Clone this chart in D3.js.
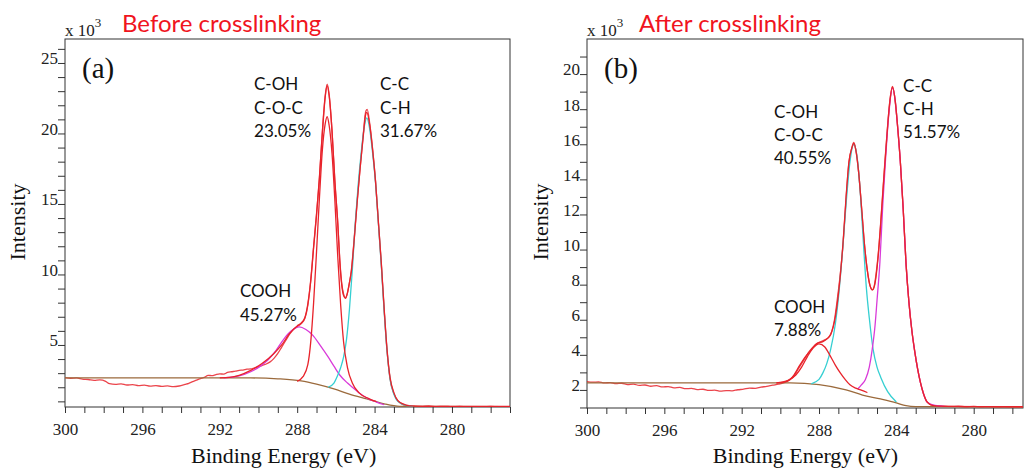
<!DOCTYPE html>
<html>
<head>
<meta charset="utf-8">
<script src="https://d3js.org/d3.v7.min.js"></script>
<style>
  body { margin: 0; background: #fff; }
  svg { display: block; }
  .axis .tick line { stroke: #333; }
  .frame { fill: none; stroke: #333; stroke-width: 1; }
  .curve { fill: none; stroke-width: 1.3; }
</style>
</head>
<body>
<svg id="chart" width="1024" height="472"></svg>
<script>
// ---- data (binding energy eV, intensity x1000) ----
var energyTicks = [300, 296, 292, 288, 284, 280];
var yTicksA = [5, 10, 15, 20, 25];
var yTicksB = [2, 4, 6, 8, 10, 12, 14, 16, 18, 20];

// (a) before crosslinking
var bgA = [[300,2.66],[292,2.66],[290.4,2.66],[289,2.6],[287.8,2.45],[287,2.22],[286.1,1.88],[285.3,1.52],[284.4,1.17],[283.5,0.82],[282.7,0.65],[277,0.62]];
var coohA = [[291.8,2.66],[291,2.8],[290.4,3.1],[289.9,3.5],[289.5,3.95],[289.1,4.6],[288.7,5.4],[288.3,6.0],[287.9,6.28],[287.55,6.1],[287.2,5.7],[286.8,4.95],[286.4,4.15],[286.1,3.5],[285.8,2.87],[285.4,2.3],[285.1,1.95],[284.7,1.5],[284.4,1.24],[283.9,0.95],[283.5,0.76]];
var cohA = [[288.0,2.42],[287.7,2.75],[287.45,3.6],[287.3,5.2],[287.15,8.0],[287.0,11.6],[286.85,15.4],[286.7,18.8],[286.55,20.7],[286.45,21.2],[286.35,20.6],[286.2,18.6],[286.05,15.2],[285.9,11.2],[285.75,7.8],[285.6,5.2],[285.4,3.4],[285.15,2.3],[284.8,1.6],[284.3,1.2],[283.9,0.98]];
var ccA = [[286.4,2.0],[286.1,2.3],[285.9,2.87],[285.75,3.4],[285.6,4.15],[285.45,5.4],[285.3,7.5],[285.15,10.3],[285.0,13.6],[284.85,16.3],[284.7,18.5],[284.55,20.3],[284.4,21.1],[284.25,20.3],[284.1,18.6],[283.95,16.5],[283.8,13.6],[283.65,10.6],[283.5,7.3],[283.35,4.5],[283.2,2.6],[283.0,1.5],[282.8,1.0],[282.4,0.72],[282.0,0.65]];
var envA = [[292,2.66],[291.5,2.7],[291,2.85],[290.4,3.2],[289.8,3.7],[289.2,4.4],[288.8,5.0],[288.4,5.8],[288.0,6.35],[287.8,6.55],[287.6,6.95],[287.45,7.9],[287.3,9.5],[287.15,11.9],[287.0,14.2],[286.85,16.9],[286.7,20.0],[286.55,22.6],[286.45,23.4],[286.35,22.7],[286.2,20.2],[286.05,16.6],[285.9,13.6],[285.8,11.0],[285.7,9.3],[285.6,8.5],[285.5,8.3],[285.4,8.7],[285.3,9.4],[285.2,10.2],[285.05,12.5],[284.9,15.1],[284.75,17.5],[284.6,19.6],[284.45,21.4],[284.4,21.5],[284.25,20.6],[284.1,18.8],[283.95,16.6],[283.8,13.7],[283.65,10.8],[283.5,7.5],[283.35,4.6],[283.2,2.7],[283.0,1.6],[282.8,1.05],[282.5,0.8],[282.2,0.68],[281.5,0.65],[277,0.64]];
var rawA = [[300,2.68],[299.7,2.64],[299.4,2.66],[299.1,2.58],[298.8,2.55],[298.5,2.49],[298.2,2.52],[297.9,2.42],[297.7,2.25],[297.4,2.21],[297.1,2.24],[296.8,2.16],[296.5,2.19],[296.2,2.12],[295.9,2.15],[295.6,2.08],[295.3,2.12],[295.0,2.06],[294.7,2.1],[294.4,2.04],[294.1,2.09],[293.8,2.2],[293.6,2.28],[293.4,2.4],[293.2,2.5],[293.0,2.62],[292.8,2.7],[292.6,2.85],[292.4,2.82],[292.2,2.9],[292.0,2.95],[291.8,2.93],[291.6,3.05],[291.4,3.1],[291.2,3.14],[291.0,3.2],[290.8,3.22],[290.6,3.28],[290.4,3.3],[290.2,3.38],[290.0,3.45],[289.8,3.55],[289.6,3.65],[289.4,3.8],[289.2,4.05],[289.0,4.4],[288.8,4.85],[288.6,5.3],[288.4,5.75],[288.2,6.1],[288.0,6.3],[287.8,6.5],[287.6,6.9],[287.45,7.8],[287.3,9.6],[287.15,12.0],[287.0,14.3],[286.85,16.8],[286.7,20.1],[286.55,22.7],[286.45,23.5],[286.35,22.8],[286.2,20.2],[286.05,16.5],[285.9,13.6],[285.8,11.1],[285.7,9.4],[285.6,8.6],[285.5,8.35],[285.4,8.7],[285.3,9.4],[285.2,10.3],[285.05,12.6],[284.9,15.2],[284.75,17.5],[284.6,19.7],[284.45,21.6],[284.38,21.7],[284.25,20.7],[284.1,18.9],[283.95,16.6],[283.8,13.6],[283.65,10.7],[283.5,7.4],[283.35,4.5],[283.2,2.6],[283.0,1.55],[282.8,1.05],[282.6,0.82],[282.4,0.72],[282.2,0.7],[282.0,0.66],[281.6,0.64],[281.2,0.67],[280.8,0.63],[280.4,0.65],[280.0,0.62],[279.6,0.64],[279.2,0.61],[278.8,0.63],[278.4,0.62],[278,0.64],[277.6,0.62],[277,0.63]];

// (b) after crosslinking
var bgB = [[300,2.4],[289.5,2.4],[288,2.3],[286.6,2.0],[285.75,1.71],[284.9,1.5],[284,1.26],[283.5,1.1],[283,1.05],[277.4,1.03]];
var coohB = [[290.2,2.4],[289.6,2.55],[289.2,2.85],[288.9,3.3],[288.6,3.9],[288.3,4.4],[288.0,4.63],[287.7,4.45],[287.4,3.9],[287.15,3.4],[286.9,2.97],[286.65,2.6],[286.4,2.29],[286.1,2.1],[285.85,2.0],[285.5,1.85]];
var cohB = [[288.4,2.35],[288.0,2.6],[287.8,2.97],[287.6,3.5],[287.4,4.3],[287.15,5.8],[287.0,7.2],[286.8,9.7],[286.6,12.6],[286.4,15.0],[286.2,16.0],[286.0,15.0],[285.85,13.0],[285.7,10.3],[285.55,7.8],[285.4,6.1],[285.2,4.3],[285.0,3.3],[284.8,2.7],[284.45,1.9],[284.0,1.31]];
var ccB = [[286.0,2.05],[285.8,2.3],[285.6,2.6],[285.4,3.3],[285.25,4.3],[285.1,5.7],[285.0,7.1],[284.85,9.3],[284.7,12.6],[284.55,15.3],[284.4,17.6],[284.2,19.2],[284.05,18.4],[283.95,17.2],[283.8,15.1],[283.65,12.4],[283.5,9.2],[283.35,7.0],[283.2,5.4],[283.05,4.2],[282.9,3.2],[282.75,2.4],[282.6,1.8],[282.4,1.3],[282.0,1.12],[281.5,1.06]];
var envB = [[290.2,2.4],[289.8,2.45],[289.5,2.6],[289.3,2.85],[289.0,3.4],[288.7,3.9],[288.4,4.3],[288.1,4.65],[287.8,4.75],[287.55,4.95],[287.4,5.15],[287.15,6.2],[286.9,8.5],[286.75,10.5],[286.6,13.0],[286.45,15.0],[286.3,15.8],[286.2,16.05],[286.1,15.7],[285.95,14.4],[285.8,12.4],[285.65,10.3],[285.5,8.8],[285.35,7.9],[285.23,7.7],[285.1,8.1],[284.95,9.5],[284.8,11.6],[284.65,14.0],[284.5,16.3],[284.35,18.3],[284.2,19.25],[284.05,18.4],[283.95,17.2],[283.8,15.1],[283.65,12.4],[283.5,9.2],[283.35,7.0],[283.2,5.4],[283.05,4.2],[282.9,3.2],[282.75,2.4],[282.6,1.8],[282.4,1.3],[282.1,1.1],[281.5,1.06],[277.4,1.04]];
var rawB = [[300,2.47],[299.7,2.44],[299.4,2.46],[299.1,2.4],[298.8,2.42],[298.5,2.36],[298.2,2.38],[297.9,2.3],[297.6,2.33],[297.3,2.26],[297.0,2.28],[296.7,2.21],[296.4,2.24],[296.1,2.17],[295.8,2.19],[295.5,2.12],[295.2,2.14],[294.9,2.07],[294.6,2.09],[294.3,2.02],[294.0,2.04],[293.7,1.97],[293.4,1.99],[293.1,1.93],[292.8,1.96],[292.5,1.95],[292.2,2.01],[291.9,2.04],[291.6,2.1],[291.3,2.09],[291.0,2.16],[290.7,2.2],[290.4,2.27],[290.1,2.33],[289.8,2.42],[289.5,2.58],[289.3,2.78],[289.1,3.15],[288.9,3.5],[288.7,3.85],[288.5,4.2],[288.3,4.45],[288.1,4.65],[287.9,4.75],[287.7,4.85],[287.5,5.0],[287.35,5.3],[287.2,6.0],[287.05,7.2],[286.9,8.6],[286.75,10.4],[286.6,12.9],[286.45,15.0],[286.3,15.8],[286.2,16.1],[286.1,15.7],[285.95,14.4],[285.8,12.4],[285.65,10.3],[285.5,8.8],[285.35,7.9],[285.25,7.7],[285.15,7.9],[285.05,8.6],[284.9,10.2],[284.75,12.5],[284.6,14.9],[284.45,17.1],[284.3,18.8],[284.2,19.3],[284.1,18.8],[283.95,17.2],[283.8,15.1],[283.65,12.4],[283.5,9.2],[283.35,7.0],[283.2,5.4],[283.05,4.2],[282.9,3.2],[282.75,2.4],[282.6,1.8],[282.4,1.3],[282.2,1.15],[282.0,1.1],[281.6,1.08],[281.2,1.06],[280.8,1.07],[280.4,1.04],[280.0,1.06],[279.6,1.04],[279.2,1.05],[278.8,1.03],[278.4,1.05],[278,1.03],[277.4,1.04]];

// peak labels: [energy, intensity] of first baseline
var labelsA = [
  { at: [290.23, 23.08], lines: ["C-OH", "C-O-C", "23.05%"] },
  { at: [283.72, 23.08], lines: ["C-C", "C-H", "31.67%"] },
  { at: [290.96, 8.4], lines: ["COOH", "45.27%"] }
];
var labelsB = [
  { at: [290.33, 17.5], lines: ["C-OH", "C-O-C", "40.55%"] },
  { at: [283.65, 18.98], lines: ["C-C", "C-H", "51.57%"] },
  { at: [290.33, 6.38], lines: ["COOH", "7.88%"] }
];

var red = "#e8232b", magenta = "#d93ad9", cyan = "#35cfd2", brown = "#9b6a3c";
var serif = "'Liberation Serif', 'Times New Roman', Times, serif";
var sans = "Lato, 'Open Sans', sans-serif";

var svg = d3.select("#chart");

function drawPanel(p) {
  var x = d3.scaleLinear().domain(p.xDomain).range([p.left, p.right]);
  var y = d3.scaleLinear().domain(p.yDomain).range([p.bottom, p.top]);
  var g = svg.append("g");

  g.append("clipPath").attr("id", "clip" + p.id)
    .append("rect")
    .attr("x", p.left).attr("y", p.top)
    .attr("width", p.right - p.left).attr("height", p.bottom - p.top);

  // x axis: minor every 1 eV, labels every 4
  var xMinor = d3.range(300, p.xDomain[1] - 0.01, -1);
  var xAxis = g.append("g").attr("class", "axis")
    .attr("transform", "translate(0," + p.bottom + ")")
    .call(d3.axisBottom(x).tickValues(xMinor).tickSize(6)
      .tickFormat(function (d) { return energyTicks.indexOf(d) >= 0 ? d : ""; }));
  xAxis.select(".domain").remove();
  xAxis.attr("font-family", null).attr("font-size", null);
  xAxis.selectAll("text").attr("y", 16)
    .style("font-family", serif).style("font-size", "17px").style("fill", "#222");

  // y axis: minor every 1, labels at majors
  var yMinor = d3.range(Math.ceil(p.yDomain[0]), p.yDomain[1], 1);
  var yAxis = g.append("g").attr("class", "axis")
    .attr("transform", "translate(" + p.left + ",0)")
    .call(d3.axisLeft(y).tickValues(yMinor).tickSize(7)
      .tickFormat(function (d) { return p.yTicks.indexOf(d) >= 0 ? d : ""; }));
  yAxis.select(".domain").remove();
  yAxis.selectAll("text").attr("x", -7).attr("dy", "0.05em")
    .style("font-family", serif).style("font-size", "17px").style("fill", "#222");

  // frame
  g.append("rect").attr("class", "frame")
    .attr("x", p.left).attr("y", p.top)
    .attr("width", p.right - p.left).attr("height", p.bottom - p.top);

  var line = d3.line()
    .x(function (d) { return x(d[0]); })
    .y(function (d) { return y(d[1]); })
    .curve(d3.curveMonotoneX);

  var plot = g.append("g").attr("clip-path", "url(#clip" + p.id + ")");
  p.series.forEach(function (s) {
    plot.append("path").attr("class", "curve")
      .attr("d", line(s.data))
      .attr("stroke", s.color)
      .attr("stroke-opacity", s.opacity || 1);
  });

  // peak labels
  p.labels.forEach(function (l) {
    var t = g.append("text")
      .style("font-family", sans).style("font-size", "17px").style("fill", "#111")
      .attr("x", x(l.at[0])).attr("y", y(l.at[1]));
    l.lines.forEach(function (s, i) {
      t.append("tspan").attr("x", x(l.at[0])).attr("dy", i === 0 ? 0 : p.lineGap).text(s);
    });
  });

  // panel letter
  g.append("text").style("font-family", serif).style("font-size", "29px").style("fill", "#111")
    .attr("x", p.left + 17).attr("y", p.top + 39).text(p.letter);

  // scale multiplier and title
  var m = g.append("text").style("font-family", serif).style("font-size", "17px").style("fill", "#222")
    .attr("x", p.left).attr("y", p.top - 3).text("x 10");
  m.append("tspan").style("font-size", "13px").attr("dy", -9).text("3");
  g.append("text").style("font-family", sans).style("font-size", "24px").style("fill", "#f0141e")
    .attr("x", p.titleX).attr("y", p.top - 7).text(p.title);

  // axis titles
  g.append("text").style("font-family", serif).style("font-size", "22px").style("fill", "#111")
    .attr("text-anchor", "middle")
    .attr("x", x(288.7)).attr("y", 463).text("Binding Energy (eV)");
  g.append("text").style("font-family", serif).style("font-size", "22px").style("fill", "#111")
    .attr("text-anchor", "middle")
    .attr("transform", "translate(" + p.yTitleX + ",222) rotate(-90)")
    .text("Intensity");
}

drawPanel({
  id: "a", letter: "(a)", title: "Before crosslinking", titleX: 122,
  left: 65, right: 510, top: 39, bottom: 407, yTitleX: 25, lineGap: 23.5,
  xDomain: [300, 277], yDomain: [0.6, 26.7], yTicks: yTicksA, labels: labelsA,
  series: [
    { data: rawA, color: red, opacity: 0.85 },
    { data: bgA, color: brown },
    { data: coohA, color: magenta },
    { data: ccA, color: cyan },
    { data: cohA, color: red },
    { data: envA, color: red }
  ]
});

drawPanel({
  id: "b", letter: "(b)", title: "After crosslinking", titleX: 639,
  left: 587, right: 1023, top: 39, bottom: 408, yTitleX: 548, lineGap: 23,
  xDomain: [300, 277.45], yDomain: [0.97, 22], yTicks: yTicksB, labels: labelsB,
  series: [
    { data: rawB, color: red, opacity: 0.85 },
    { data: bgB, color: brown },
    { data: cohB, color: cyan },
    { data: ccB, color: magenta },
    { data: coohB, color: red },
    { data: envB, color: red }
  ]
});
</script>
</body>
</html>
